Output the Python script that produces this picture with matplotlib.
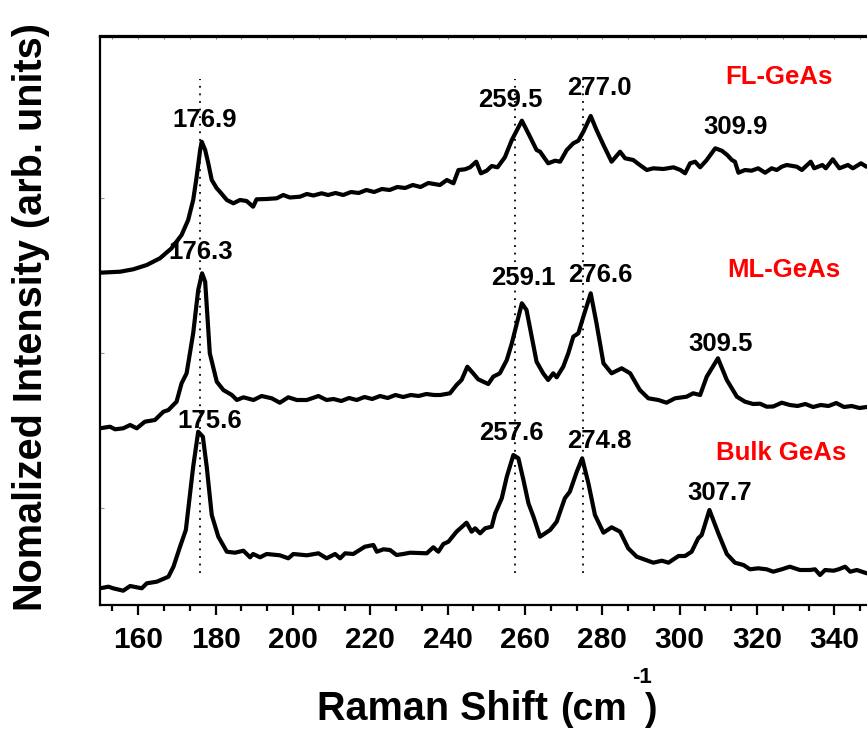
import matplotlib
matplotlib.use("Agg")
import matplotlib.pyplot as plt
from matplotlib.ticker import MultipleLocator, AutoMinorLocator, NullFormatter

plt.rcParams['font.family'] = ['Liberation Sans', 'DejaVu Sans']
plt.rcParams['font.weight'] = 'bold'

# ---------------- data (Raman shift in cm^-1, stacked normalized intensity in arb. units)
bulk_shift = [150.1, 152.3, 153.5, 156.1, 157.9, 160.9, 162.2, 164.8, 167.8, 169.1, 170.8, 172.3,
              174.2, 175.5, 176.7, 177.7, 179.0, 180.7, 182.9, 185.0, 187.2, 188.9, 189.7, 191.5,
              193.2, 196.6, 198.8, 200.1, 203.6, 206.6, 208.7, 210.9, 212.2, 213.5, 215.6, 218.6,
              220.8, 221.7, 223.4, 225.1, 226.8, 228.5, 230.3, 234.6, 236.3, 237.6, 238.9, 240.2,
              242.3, 244.9, 246.2, 247.1, 248.4, 249.7, 251.4, 252.3, 254.0, 255.3, 257.0, 258.3,
              259.6, 260.9, 262.2, 263.9, 266.5, 268.2, 270.3, 271.6, 273.4, 274.8, 276.4, 278.1,
              280.3, 282.4, 284.6, 286.7, 288.9, 293.2, 295.4, 297.1, 299.7, 301.4, 303.1, 304.8,
              305.7, 307.7, 310.0, 312.2, 314.3, 316.5, 318.2, 320.3, 322.5, 324.2, 326.4, 328.5,
              331.1, 333.7, 335.0, 336.3, 337.6, 339.8, 341.1, 342.8, 344.1, 345.8, 348.4]
bulk_int = [0.167, 0.183, 0.167, 0.143, 0.19, 0.167, 0.217, 0.233, 0.283, 0.383, 0.583, 0.75,
            1.383, 1.733, 1.683, 1.383, 0.9, 0.683, 0.533, 0.523, 0.543, 0.477, 0.51, 0.477,
            0.51, 0.497, 0.467, 0.51, 0.497, 0.517, 0.467, 0.51, 0.467, 0.517, 0.51, 0.583,
            0.6, 0.533, 0.557, 0.55, 0.5, 0.51, 0.523, 0.517, 0.577, 0.533, 0.61, 0.633,
            0.733, 0.823, 0.733, 0.767, 0.717, 0.767, 0.783, 0.917, 1.067, 1.283, 1.5, 1.467,
            1.25, 1.017, 0.883, 0.683, 0.75, 0.833, 1.067, 1.133, 1.333, 1.467, 1.217, 0.9,
            0.723, 0.777, 0.733, 0.567, 0.483, 0.423, 0.443, 0.423, 0.49, 0.49, 0.533, 0.667,
            0.7, 0.95, 0.717, 0.51, 0.423, 0.4, 0.357, 0.367, 0.357, 0.333, 0.357, 0.383,
            0.35, 0.35, 0.357, 0.3, 0.35, 0.343, 0.357, 0.383, 0.333, 0.35, 0.317]

ml_shift = [150.1, 152.7, 154.0, 156.1, 157.9, 159.6, 161.7, 164.3, 166.5, 167.8, 169.9, 171.2,
            172.5, 174.2, 175.5, 176.5, 177.3, 178.5, 180.3, 182.0, 184.2, 185.5, 187.2, 189.8,
            191.9, 194.5, 196.6, 198.8, 201.0, 203.6, 206.6, 208.7, 210.5, 212.5, 214.5, 216.5,
            218.5, 220.5, 222.5, 224.5, 226.5, 228.5, 230.5, 232.5, 234.5, 236.5, 238.1, 240.6,
            242.3, 243.6, 245.1, 246.6, 247.9, 250.5, 251.8, 253.5, 255.3, 256.6, 259.2, 260.4,
            263.0, 264.7, 266.0, 267.3, 268.2, 269.9, 271.2, 272.5, 273.8, 275.1, 277.0, 278.5,
            280.3, 282.4, 285.0, 287.2, 289.7, 291.9, 294.5, 296.6, 298.8, 301.8, 303.5, 305.3,
            307.0, 309.9, 312.2, 314.8, 316.9, 319.0, 320.8, 322.5, 324.2, 326.4, 328.5, 330.5,
            332.5, 334.5, 336.5, 338.5, 340.5, 342.5, 344.5, 346.5, 348.4]
ml_int = [1.767, 1.783, 1.757, 1.767, 1.8, 1.767, 1.833, 1.85, 1.933, 1.95, 2.033, 2.217,
          2.317, 2.717, 3.15, 3.317, 3.233, 2.517, 2.233, 2.15, 2.1, 2.05, 2.077, 2.05,
          2.09, 2.067, 2.023, 2.077, 2.05, 2.05, 2.09, 2.05, 2.06, 2.04, 2.07, 2.05,
          2.08, 2.06, 2.09, 2.07, 2.1, 2.08, 2.1, 2.09, 2.11, 2.1, 2.1, 2.117,
          2.2, 2.25, 2.383, 2.317, 2.257, 2.21, 2.283, 2.317, 2.45, 2.617, 3.017, 2.95,
          2.433, 2.317, 2.25, 2.317, 2.277, 2.383, 2.517, 2.683, 2.717, 2.883, 3.117, 2.817,
          2.417, 2.317, 2.367, 2.317, 2.15, 2.067, 2.05, 2.023, 2.067, 2.083, 2.117, 2.1,
          2.283, 2.467, 2.25, 2.083, 2.033, 2.01, 2.013, 1.983, 1.985, 2.023, 2.0, 1.99,
          2.01, 1.98, 2.0, 1.99, 2.02, 1.98, 1.99, 1.97, 1.98]

fl_shift = [150.1, 155.3, 158.7, 162.2, 165.6, 168.6, 171.2, 172.9, 174.2, 175.1, 176.0, 176.4,
            177.3, 178.1, 179.0, 180.3, 181.1, 182.9, 184.6, 186.3, 188.0, 189.7, 190.6, 193.2,
            195.8, 197.5, 199.2, 201.8, 203.6, 205.3, 207.4, 209.1, 211.0, 213.0, 215.0, 217.0,
            219.0, 221.0, 223.0, 225.0, 227.0, 229.0, 231.0, 233.0, 235.0, 238.0, 239.8, 241.5,
            242.8, 244.5, 245.8, 247.4, 248.6, 250.1, 251.4, 252.9, 254.8, 256.6, 259.2, 261.3,
            263.0, 263.9, 266.0, 267.8, 269.1, 270.8, 272.5, 273.8, 275.1, 277.0, 278.5, 280.3,
            282.4, 284.6, 285.9, 288.0, 289.7, 291.5, 293.2, 295.8, 298.4, 300.2, 301.4, 302.7,
            304.0, 305.3, 307.0, 309.2, 310.9, 312.3, 313.5, 314.3, 315.2, 316.9, 318.6, 320.3,
            322.1, 323.8, 325.1, 326.4, 327.7, 330.3, 331.6, 333.9, 334.8, 336.9, 337.8, 339.6,
            341.3, 343.5, 344.8, 346.9, 348.3]
fl_int = [3.323, 3.333, 3.357, 3.4, 3.467, 3.567, 3.7, 3.85, 4.05, 4.283, 4.55, 4.633,
          4.55, 4.417, 4.25, 4.167, 4.133, 4.05, 4.017, 4.05, 4.04, 3.983, 4.057, 4.06,
          4.067, 4.1, 4.075, 4.083, 4.11, 4.095, 4.117, 4.1, 4.12, 4.1, 4.13, 4.12,
          4.15, 4.13, 4.16, 4.15, 4.18, 4.17, 4.2, 4.18, 4.22, 4.2, 4.25, 4.217,
          4.35, 4.357, 4.377, 4.433, 4.317, 4.343, 4.39, 4.377, 4.477, 4.65, 4.843, 4.683,
          4.55, 4.533, 4.417, 4.443, 4.433, 4.55, 4.617, 4.643, 4.733, 4.89, 4.75, 4.6,
          4.433, 4.533, 4.467, 4.45, 4.4, 4.35, 4.367, 4.36, 4.377, 4.35, 4.317, 4.417,
          4.433, 4.377, 4.45, 4.567, 4.543, 4.5, 4.45, 4.433, 4.323, 4.35, 4.343, 4.367,
          4.323, 4.367, 4.35, 4.383, 4.4, 4.383, 4.35, 4.433, 4.367, 4.4, 4.367, 4.457,
          4.367, 4.4, 4.367, 4.417, 4.383]

ref_lines = [176.0, 257.4, 274.9]

peak_labels = ['176.9', '259.5', '277.0', '309.9',
               '176.3', '259.1', '276.6', '309.5',
               '175.6', '257.6', '274.8', '307.7']
sample_names = ['FL-GeAs', 'ML-GeAs', 'Bulk GeAs']

# ---------------- layout / placement (data coordinates)
peak_label_pos = [(177.2, 4.783), (256.1, 4.977), (279.2, 5.10), (314.5, 4.71),
                  (176.2, 3.457), (259.6, 3.20), (279.6, 3.233), (310.6, 2.543),
                  (178.5, 1.767), (256.5, 1.65), (279.3, 1.567), (310.4, 1.05)]
sample_pos = [(325.6, 5.21), (327.0, 3.283), (326.2, 1.45)]

W, H = 867, 729
fig = plt.figure(figsize=(W / 100, H / 100), dpi=100)
ax = fig.add_axes([99.6 / W, 1 - 605 / H, (873.0 - 99.6) / W, (605 - 36.5) / H])

for xs, ys in [(bulk_shift, bulk_int), (ml_shift, ml_int), (fl_shift, fl_int)]:
    ax.plot(xs, ys, color='black', lw=3.0, solid_joinstyle='round',
            solid_capstyle='round', zorder=3)

for xv in ref_lines:
    ax.vlines(xv, 0.32, 5.26, colors='black', linestyles=(0, (1, 3.2)), lw=1.3, zorder=2)

for lab, (px, py) in zip(peak_labels, peak_label_pos):
    ax.text(px, py, lab, ha='center', va='baseline', fontsize=18.5, fontweight='bold',
            color='black', zorder=4)
for lab, (px, py) in zip(sample_names, sample_pos):
    ax.text(px, py, lab, ha='center', va='baseline', fontsize=18.5, fontweight='bold',
            color='#ff0000', zorder=4)

ax.set_xlim(150, 350)
ax.set_ylim(0, 5.685)

ax.xaxis.set_major_locator(MultipleLocator(20))
ax.xaxis.set_minor_locator(AutoMinorLocator(3))
ax.tick_params(axis='x', which='major', direction='out', length=7, width=1.6, pad=8,
               labelsize=21.5)
ax.tick_params(axis='x', which='minor', direction='out', length=4.5, width=1.6)
for lab in ax.get_xticklabels():
    lab.set_fontweight('bold')

ax.set_yticks([0.97, 2.52, 4.07])
ax.yaxis.set_major_formatter(NullFormatter())
ax.tick_params(axis='y', which='both', direction='in', length=3, width=0.8, color='#999999')

top = ax.secondary_xaxis('top')
top.xaxis.set_major_locator(MultipleLocator(20))
top.xaxis.set_minor_locator(AutoMinorLocator(3))
top.xaxis.set_major_formatter(NullFormatter())
top.tick_params(axis='x', which='both', direction='in', length=2, width=0.8, color='#888888')
top.spines['top'].set_linewidth(1.6)

for sp in ['left', 'bottom', 'top']:
    ax.spines[sp].set_linewidth(1.6)
ax.spines['right'].set_visible(False)

# axis labels
fig.text(31.5 / W, 1 - 317 / H, 'Nomalized Intensity (arb. units)', rotation=90,
         ha='center', va='center', fontsize=28.5, fontweight='bold')
fig.text(317 / W, 1 - 720 / H, 'Raman Shift', ha='left', va='baseline', fontsize=28.5,
         fontweight='bold')
fig.text(560 / W, 1 - 720 / H, '(cm', ha='left', va='baseline', fontsize=27, fontweight='bold')
fig.text(632 / W, 1 - 683 / H, '-1', ha='left', va='baseline', fontsize=16, fontweight='bold')
fig.text(657 / W, 1 - 720 / H, ')', ha='right', va='baseline', fontsize=27, fontweight='bold')

fig.savefig('out.png', dpi=100)
